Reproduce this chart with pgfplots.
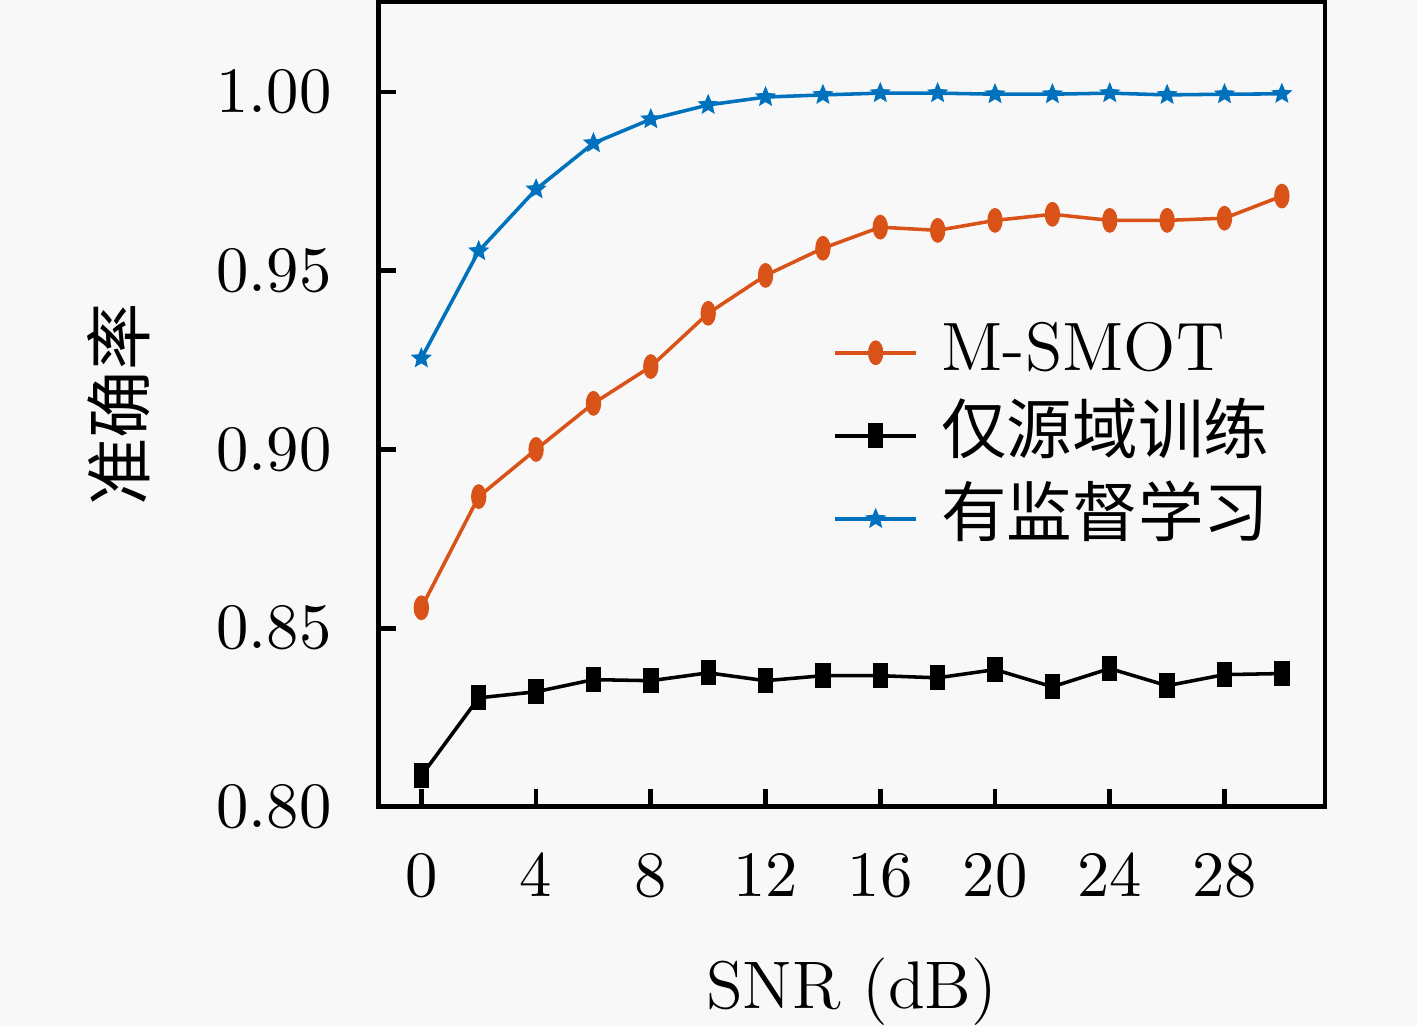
\documentclass[border=0pt]{standalone}
\usepackage{fontspec}
\newfontfamily\cjk{Noto Sans CJK SC}
\usepackage{pgfplots}
\pgfplotsset{compat=1.18}
\usepackage{pgfplotstable}
\definecolor{bgc}{RGB}{248,248,248}
\definecolor{morange}{RGB}{217,83,25}
\definecolor{mblue}{RGB}{0,114,189}
\pagecolor{bgc}

\pgfdeclareplotmark{fstar}{%
  \pgfpathmoveto{\pgfpointpolar{90}{\pgfplotmarksize}}%
  \pgfpathlineto{\pgfpointpolar{126}{0.45\pgfplotmarksize}}%
  \pgfpathlineto{\pgfpointpolar{162}{\pgfplotmarksize}}%
  \pgfpathlineto{\pgfpointpolar{198}{0.45\pgfplotmarksize}}%
  \pgfpathlineto{\pgfpointpolar{234}{\pgfplotmarksize}}%
  \pgfpathlineto{\pgfpointpolar{270}{0.45\pgfplotmarksize}}%
  \pgfpathlineto{\pgfpointpolar{306}{\pgfplotmarksize}}%
  \pgfpathlineto{\pgfpointpolar{342}{0.45\pgfplotmarksize}}%
  \pgfpathlineto{\pgfpointpolar{18}{\pgfplotmarksize}}%
  \pgfpathlineto{\pgfpointpolar{54}{0.45\pgfplotmarksize}}%
  \pgfpathclose
  \pgfusepathqfillstroke
}

\pgfplotstableread{
x y
0 0.8557
2 0.8868
4 0.9000
6 0.9129
8 0.9232
10 0.9381
12 0.9487
14 0.9563
16 0.9622
18 0.9613
20 0.9641
22 0.9658
24 0.9641
26 0.9641
28 0.9647
30 0.9709
}\msmot

\pgfplotstableread{
x y
0 0.8087
2 0.8305
4 0.8322
6 0.8356
8 0.8353
10 0.8375
12 0.8353
14 0.8367
16 0.8367
18 0.8361
20 0.8384
22 0.8336
24 0.8387
26 0.8339
28 0.8370
30 0.8373
}\source

\pgfplotstableread{
x y
0 0.9255
2 0.9555
4 0.9728
6 0.9857
8 0.9924
10 0.9964
12 0.9986
14 0.9992
16 0.9997
18 0.9997
20 0.9994
22 0.9994
24 0.9997
26 0.9992
28 0.9994
30 0.9995
}\superv

\begin{document}
\begin{tikzpicture}
\begin{axis}[
  name=ax,
  scale only axis,
  width=160.3pt, height=136.3pt,
  xmin=-1.5, xmax=31.5,
  ymin=0.80, ymax=1.0252,
  xtick={0,4,...,28},
  ytick={0.80,0.85,0.90,0.95,1.00},
  yticklabel style={/pgf/number format/fixed,/pgf/number format/fixed zerofill,/pgf/number format/precision=2,xshift=-4.4pt},
  tick label style={font=\fontsize{11}{13}\selectfont},
  xticklabel style={yshift=-4.6pt},
  xtick pos=bottom, ytick pos=left,
  tick align=inside,
  major tick length=3pt,
  axis line style={line width=0.8pt},
  tick style={line width=0.8pt,black},
  xlabel={SNR (dB)},
  ylabel={\cjk 准确率},
  label style={font=\fontsize{11.4}{13}\selectfont},
  xlabel style={at={(axis description cs:0.5,0)},anchor=base,yshift=-34.1pt},
  ylabel style={at={(axis description cs:0,0.5)},anchor=center,yshift=43.9pt},
  legend style={draw=none, fill=none, at={(axis description cs:0.461,0.628)}, anchor=north west,
    font=\fontsize{11.6}{13}\selectfont, row sep=1.07pt, column sep=3pt,
    nodes={inner sep=1pt, text height=8.5pt, text depth=2.5pt}},
  legend cell align=left,
  legend image code/.code={\draw[mark repeat=2,mark phase=2,#1] plot coordinates {(0cm,0cm)(0.24cm,0cm)(0.48cm,0cm)};},
]
\addplot[color=morange, line width=0.6pt, mark=*, mark size=2.0pt, mark options={xscale=0.6,fill=morange,draw=morange,line width=0.2pt}] table[x=x,y=y] {\msmot};
\addlegendentry{M-SMOT}
\addplot[color=black, line width=0.6pt, mark=square*, mark size=2.0pt, mark options={xscale=0.6,fill=black,line width=0.2pt}] table[x=x,y=y] {\source};
\addlegendentry{\cjk\fontsize{11.1}{13}\selectfont 仅源域训练}
\addplot[color=mblue, line width=0.6pt, mark=fstar, mark size=1.5pt, mark options={fill=mblue,line width=0.3pt}] table[x=x,y=y] {\superv};
\addlegendentry{\cjk\fontsize{11.1}{13}\selectfont 有监督学习}
\end{axis}
\pgfresetboundingbox
\path[use as bounding box] ([xshift=-64.07pt,yshift=-37.1pt]ax.south west) rectangle ([xshift=15.6pt,yshift=0.34pt]ax.north east);
\end{tikzpicture}
\end{document}
